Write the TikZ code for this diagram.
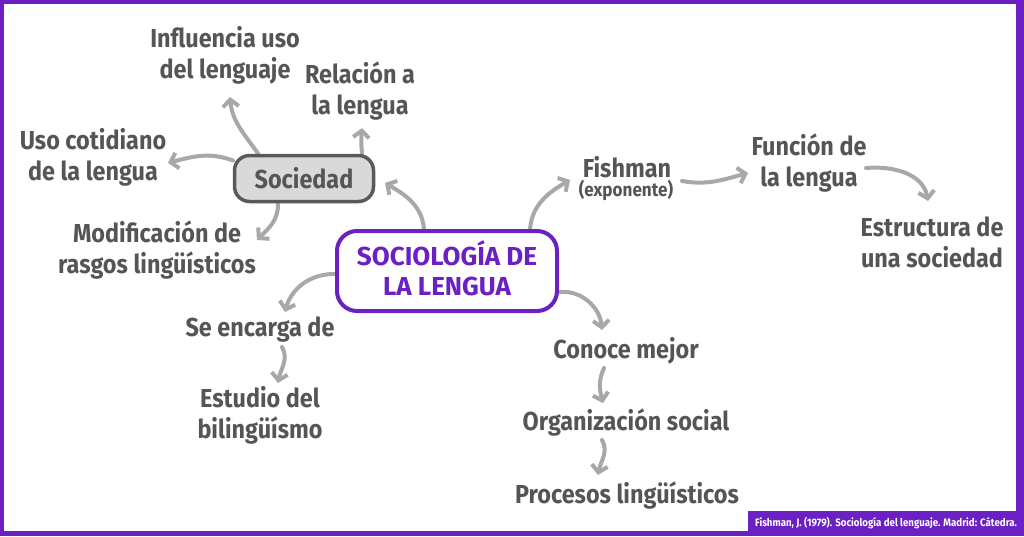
\documentclass[tikz,border=0pt]{standalone}
\usepackage{fontspec}
\setmainfont{Fira Sans}[FakeStretch=0.9]
\newfontfamily\titlefont{Fira Sans}[FakeStretch=1.0]
\usetikzlibrary{arrows.meta,calc,backgrounds}
\definecolor{purp}{RGB}{106,32,194}
\definecolor{txtgray}{RGB}{85,85,85}
\definecolor{arrgray}{RGB}{168,168,168}
\definecolor{socfill}{RGB}{217,217,217}
\definecolor{socdraw}{RGB}{90,90,90}
\tikzset{
  lab/.style={font=\fontsize{26}{31}\selectfont\bfseries, text=txtgray, align=center, inner sep=0pt, text height=19pt, text depth=5pt},
  arr/.style={draw=arrgray, line width=4pt, line cap=round, line join=round, -{Straight Barb[length=7pt,width=16pt]}},
  mainbox/.style={draw=purp, line width=4pt, fill=white, rounded corners=20pt, minimum width=220pt, minimum height=80pt, inner sep=0pt},
  socbox/.style={draw=socdraw, line width=3.5pt, fill=socfill, rounded corners=15pt, minimum width=139pt, minimum height=46pt, inner sep=0pt, font=\fontsize{26}{31}\selectfont\bfseries, text=txtgray, text height=19pt, text depth=0pt}
}
\begin{document}
\begin{tikzpicture}[x=1pt,y=-1pt]
\useasboundingbox (0,0) rectangle (1024,536);
% nodes
\node[mainbox] (main) at (447,271) {};
\node[font=\fontsize{26}{30}\selectfont\titlefont\bfseries, text=purp, align=center, inner sep=0pt] (title) at (447,268) {SOCIOLOGÍA DE\\LA LENGUA};
\node[socbox] (soc) at (304,178.5) {Sociedad};
\node[lab] (infl) at (225,71) {Influencia uso\\del lenguaje};
\node[lab] (rel) at (360,107) {Relación a\\la lengua};
\node[lab] (uso) at (93,173) {Uso cotidiano\\de la lengua};
\node[lab] (mod) at (157,266) {Modificación de\\rasgos lingüísticos};
\node[lab] (se) at (260,329) {Se encarga de};
\node[lab] (est) at (260,431) {Estudio del\\bilingüísmo};
\node[lab, text depth=1pt] (fish) at (627,168) {Fishman};
\node[lab, font=\fontsize{19}{22}\selectfont\bfseries, text height=10pt, text depth=4pt] (expo) at (626,193.5) {(exponente)};
\node[lab] (func) at (809,179) {Función de\\la lengua};
\node[lab] (estr) at (932,260) {Estructura de\\una sociedad};
\node[lab] (con) at (626,351) {Conoce mejor};
\node[lab] (org) at (626,423) {Organización social};
\node[lab] (proc) at (627,496) {Procesos lingüísticos};
\node[fill=purp, text=white, font=\fontsize{10.8}{12}\selectfont\bfseries, minimum width=276pt, minimum height=25pt, inner sep=0pt] (cite) at (886,523.5) {Fishman, J. (1979). Sociología del lenguaje. Madrid: Cátedra.};
% frame and arrows behind
\begin{scope}[on background layer]
\fill[purp] (0,0) rectangle (1024,536);
\fill[white] (4,4) rectangle (1016,531);
\draw[arr] ($(main.center)+(-23,-42)$) to[out=95,in=-30] ($(soc.center)+(81,4.5)$);
\draw[arr] ($(main.center)+(83,-42)$) to[out=85,in=210] ($(fish.center)+(-57,12)$);
\draw[arr] ($(fish.center)+(55,13)$) to[out=-10,in=195] ($(func.center)+(-61,-6)$);
\draw[arr] ($(func.center)+(57,-11)$) to[out=5,in=100] ($(estr.center)+(-4,-59)$);
\draw[arr] ($(main.center)+(113,21)$) to[out=5,in=95] ($(con.center)+(-24,-21)$);
\draw[arr] ($(con.center)+(-22,17)$) to[out=-115,in=105] ($(org.center)+(-23,-20)$);
\draw[arr] ($(org.center)+(-24,17)$) to[out=-60,in=80] ($(proc.center)+(-29,-21)$);
\draw[arr] ($(main.center)+(-113,3)$) to[out=180,in=75] ($(se.center)+(25,-17)$);
\draw[arr] ($(se.center)+(22,18)$) to[out=-60,in=80] ($(est.center)+(18,-48)$);
\draw[arr] ($(soc.center)+(-26,26)$) to[out=-90,in=45] ($(mod.center)+(100,-26)$);
\draw[arr] ($(soc.center)+(-71,-18)$) to[out=160,in=15] ($(uso.center)+(75,-10)$);
\draw[arr] ($(soc.center)+(-46,-25)$) to[out=125,in=-85] ($(infl.center)+(5,26)$);
\draw[arr] ($(soc.center)+(58,-25)$) to[out=95,in=-95] ($(rel.center)+(2,21)$);
\end{scope}
\end{tikzpicture}
\end{document}
